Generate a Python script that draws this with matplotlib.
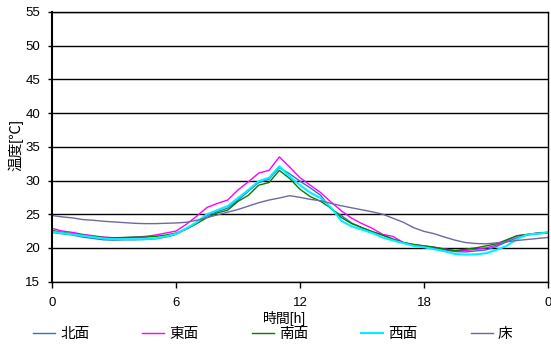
import numpy as np
import matplotlib
matplotlib.use("Agg")
import matplotlib.pyplot as plt

plt.rcParams['font.family'] = ['Liberation Sans', 'Noto Sans CJK JP', 'DejaVu Sans']

# time of day [h], half-hour steps
hours = np.arange(0, 24.01, 0.5)

north = [22.3, 22.1, 21.9, 21.6, 21.4, 21.2, 21.15, 21.2, 21.2, 21.25, 21.35, 21.6,
         22.0, 22.8, 23.7, 24.8, 25.4, 25.9, 27.1, 28.4, 29.7, 30.2, 31.9, 31.0,
         29.9, 28.9, 27.8, 25.8, 24.8, 23.7, 23.0, 22.4, 21.9, 21.3, 20.8, 20.4,
         20.2, 20.0, 19.7, 19.45, 19.4, 19.55, 19.7, 20.2, 20.9, 21.5, 21.9, 22.1, 22.2]
east = [22.9, 22.5, 22.3, 22.0, 21.8, 21.6, 21.5, 21.5, 21.6, 21.7, 21.9, 22.2,
        22.5, 23.5, 24.7, 26.0, 26.6, 27.1, 28.6, 29.8, 31.1, 31.5, 33.5, 32.0,
        30.4, 29.3, 28.2, 26.8, 25.5, 24.4, 23.6, 22.9, 22.0, 21.7, 20.8, 20.5,
        20.3, 20.1, 19.85, 19.6, 19.6, 19.8, 20.0, 20.4, 21.1, 21.8, 22.0, 22.2, 22.3]
south = [22.6, 22.3, 22.1, 21.9, 21.7, 21.55, 21.5, 21.55, 21.6, 21.6, 21.7, 21.9,
         22.2, 22.8, 23.6, 24.5, 25.2, 25.6, 26.9, 27.8, 29.3, 29.7, 31.5, 30.3,
         28.7, 27.6, 26.9, 25.9, 24.5, 23.6, 23.0, 22.4, 21.9, 21.3, 20.8, 20.5,
         20.3, 20.1, 19.8, 19.6, 19.8, 20.0, 20.3, 20.6, 21.2, 21.8, 22.0, 22.2, 22.3]
west = [22.4, 22.2, 22.0, 21.8, 21.6, 21.4, 21.3, 21.3, 21.3, 21.3, 21.4, 21.7,
        22.1, 22.9, 23.8, 25.0, 25.6, 26.2, 27.4, 28.6, 29.9, 30.4, 32.1, 30.6,
        29.3, 28.2, 27.4, 26.0, 24.0, 23.2, 22.7, 22.2, 21.55, 21.1, 20.7, 20.3,
        20.1, 19.8, 19.5, 19.1, 19.0, 19.05, 19.2, 19.7, 20.3, 21.3, 22.0, 22.1, 22.3]
floor = [24.8, 24.6, 24.45, 24.2, 24.1, 23.95, 23.85, 23.75, 23.65, 23.6, 23.6, 23.65,
         23.7, 23.8, 24.1, 24.5, 24.9, 25.3, 25.7, 26.2, 26.7, 27.1, 27.4, 27.75,
         27.5, 27.2, 27.0, 26.6, 26.25, 25.95, 25.65, 25.35, 25.0, 24.4, 23.8, 23.0,
         22.45, 22.1, 21.6, 21.15, 20.8, 20.65, 20.6, 20.75, 20.9, 21.1, 21.25, 21.4, 21.55]

series = [("北面", north, "#2f6fd6", 1.0),
          ("東面", east, "#ff00ff", 1.0),
          ("南面", south, "#008000", 1.0),
          ("西面", west, "#00f0ff", 1.5),
          ("床", floor, "#6a6aa0", 1.0)]

xticks = [0, 6, 12, 18, 24]
xticklabels = ["0", "6", "12", "18", "0"]

fig = plt.figure(figsize=(5.51, 3.49), dpi=100)
ax = fig.add_axes([52 / 551, 1 - 281.6 / 349, 496 / 551, 269.6 / 349])

for name, vals, color, lw in series:
    ax.plot(hours, vals, color=color, lw=lw, label=name)

ax.set_xlim(0, 24)
ax.set_ylim(15, 55)
ax.set_yticks(np.arange(15, 56, 5))
ax.set_xticks(xticks)
ax.set_xticklabels(xticklabels)
ax.yaxis.grid(True, color="black", lw=1.0)
ax.set_axisbelow(True)
for s in ax.spines.values():
    s.set_color("black")
    s.set_linewidth(1.0)
ax.spines["left"].set_linewidth(1.5)
ax.tick_params(axis="y", direction="out", length=3, width=1, pad=5.5, labelsize=9.5)
ax.tick_params(axis="x", direction="out", length=4, width=1, pad=7, labelsize=9.5)

fig.text(285 / 551, 1 - 318 / 349, "時間[h]", ha="center", va="center", fontsize=10)
fig.text(16 / 551, 1 - 145 / 349, "温度[℃]", ha="center", va="center",
         rotation=90, fontsize=10.5)

fig.legend(loc="center left", bbox_to_anchor=(33 / 551, 1 - 334 / 349), ncol=5,
           frameon=False, fontsize=10.5, handlelength=1.5, handletextpad=0.35,
           columnspacing=3.65, borderpad=0, borderaxespad=0)

fig.savefig("out.png", dpi=100)
